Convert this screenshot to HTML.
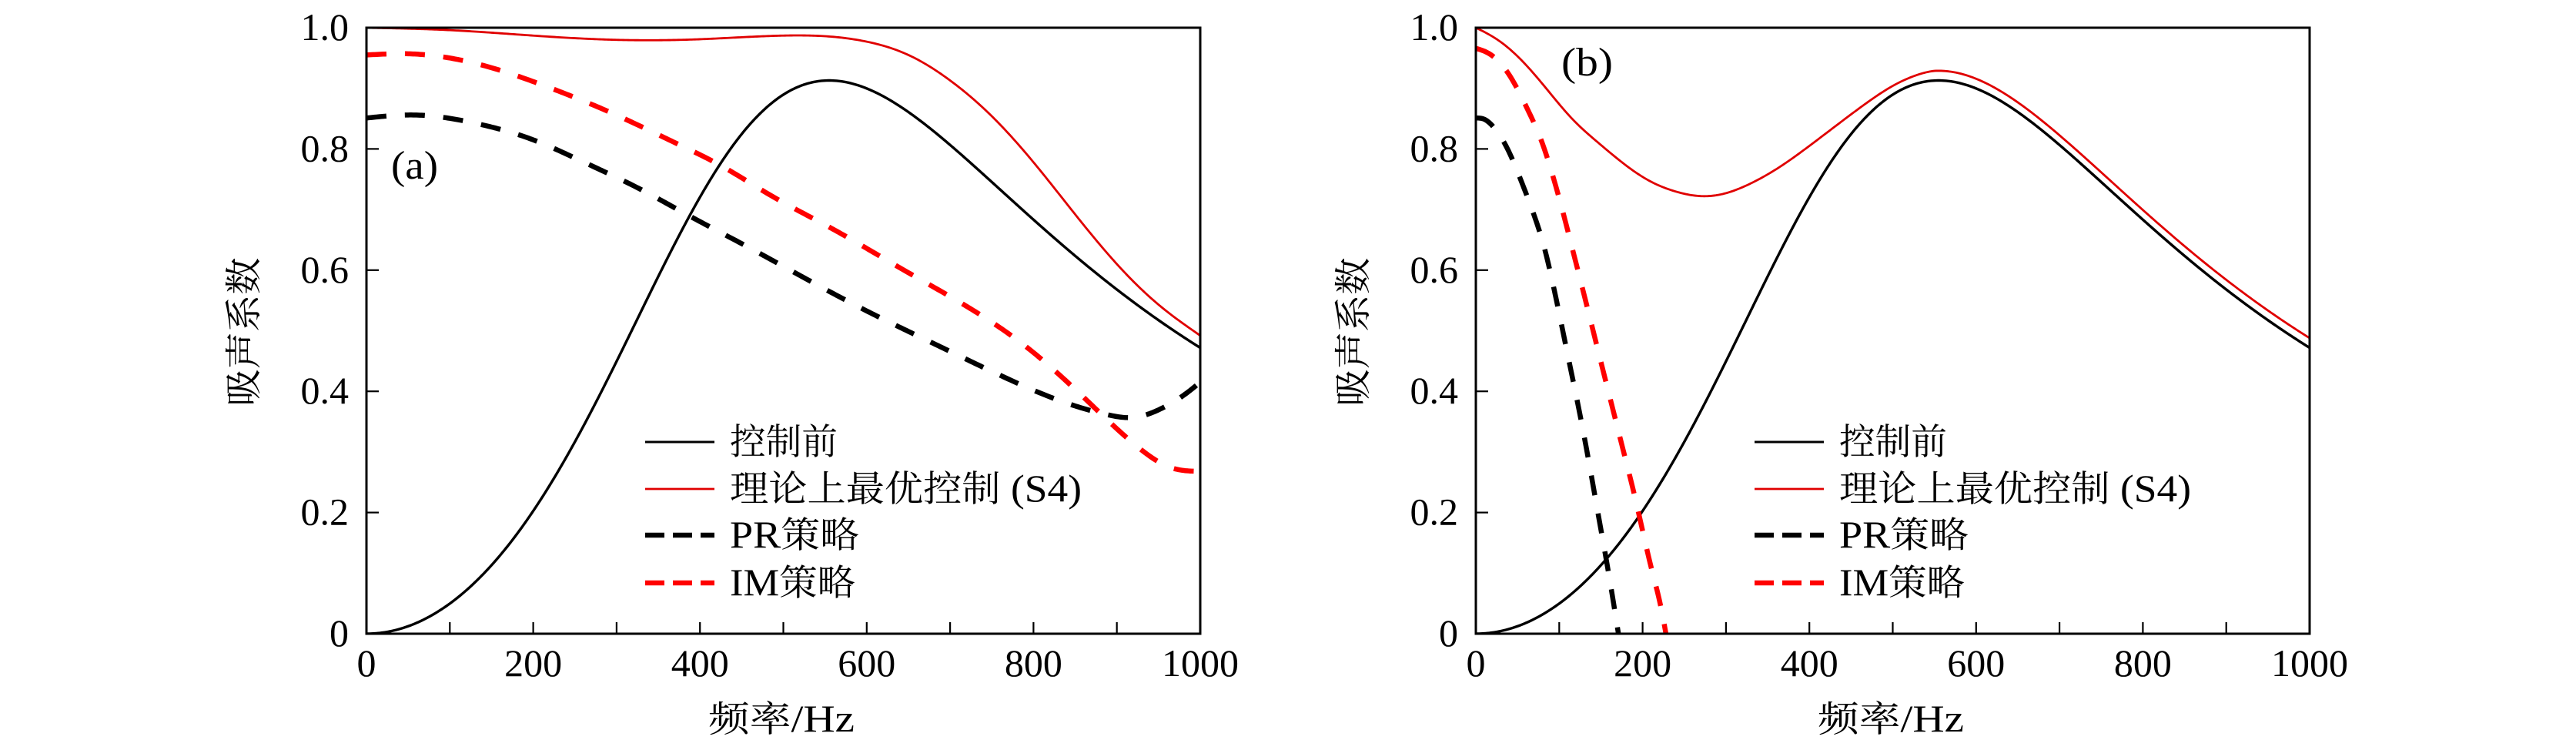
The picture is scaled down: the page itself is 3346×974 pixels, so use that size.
<!DOCTYPE html>
<html><head><meta charset="utf-8">
<style>
html,body{margin:0;padding:0;background:#fff;}
svg{display:block;}
.cjk{font-family:"Noto Serif CJK SC","Liberation Serif","Noto Sans CJK SC",serif;font-size:47px;}
.lat{font-family:"Liberation Serif",serif;font-size:50px;}
.tk{font-family:"Liberation Serif",serif;font-size:50px;fill:#000;}
</style>
</head><body>
<svg id="s" width="3346" height="974" viewBox="0 0 3346 974" xmlns="http://www.w3.org/2000/svg">
<rect width="3346" height="974" fill="#fff"/>
<defs>
<clipPath id="ca"><rect x="476" y="36" width="1083" height="787"/></clipPath>
<clipPath id="cb"><rect x="1917" y="36" width="1083" height="787"/></clipPath>
</defs>
<g id="curvesA" clip-path="url(#ca)" fill="none"></g>
<g id="curvesB" clip-path="url(#cb)" fill="none"></g>

<!-- Axes A -->
<g stroke="#000" fill="none">
<rect x="476" y="36" width="1083" height="787" stroke-width="3"/>
<g stroke-width="2.2">
<line x1="584.3" y1="823" x2="584.3" y2="808"/><line x1="692.6" y1="823" x2="692.6" y2="808"/>
<line x1="800.9" y1="823" x2="800.9" y2="808"/><line x1="909.2" y1="823" x2="909.2" y2="808"/>
<line x1="1017.5" y1="823" x2="1017.5" y2="808"/><line x1="1125.8" y1="823" x2="1125.8" y2="808"/>
<line x1="1234.1" y1="823" x2="1234.1" y2="808"/><line x1="1342.4" y1="823" x2="1342.4" y2="808"/>
<line x1="1450.7" y1="823" x2="1450.7" y2="808"/>
<line x1="476" y1="665.6" x2="492" y2="665.6"/><line x1="476" y1="508.2" x2="492" y2="508.2"/>
<line x1="476" y1="350.8" x2="492" y2="350.8"/><line x1="476" y1="193.4" x2="492" y2="193.4"/>
</g>
</g>
<!-- Axes B -->
<g stroke="#000" fill="none">
<rect x="1917" y="36" width="1083" height="787" stroke-width="3"/>
<g stroke-width="2.2">
<line x1="2025.3" y1="823" x2="2025.3" y2="808"/><line x1="2133.6" y1="823" x2="2133.6" y2="808"/>
<line x1="2241.9" y1="823" x2="2241.9" y2="808"/><line x1="2350.2" y1="823" x2="2350.2" y2="808"/>
<line x1="2458.5" y1="823" x2="2458.5" y2="808"/><line x1="2566.8" y1="823" x2="2566.8" y2="808"/>
<line x1="2675.1" y1="823" x2="2675.1" y2="808"/><line x1="2783.4" y1="823" x2="2783.4" y2="808"/>
<line x1="2891.7" y1="823" x2="2891.7" y2="808"/>
<line x1="1917" y1="665.6" x2="1933" y2="665.6"/><line x1="1917" y1="508.2" x2="1933" y2="508.2"/>
<line x1="1917" y1="350.8" x2="1933" y2="350.8"/><line x1="1917" y1="193.4" x2="1933" y2="193.4"/>
</g>
</g>

<!-- Tick labels A -->
<g class="tk" text-anchor="end">
<text x="453" y="839">0</text><text x="453" y="681.6">0.2</text><text x="453" y="524.2">0.4</text>
<text x="453" y="366.8">0.6</text><text x="453" y="209.4">0.8</text><text x="453" y="52">1.0</text>
</g>
<g class="tk" text-anchor="middle">
<text x="476" y="878">0</text><text x="692.6" y="878">200</text><text x="909.2" y="878">400</text>
<text x="1125.8" y="878">600</text><text x="1342.4" y="878">800</text><text x="1559" y="878">1000</text>
</g>
<!-- Tick labels B -->
<g class="tk" text-anchor="end">
<text x="1894" y="839">0</text><text x="1894" y="681.6">0.2</text><text x="1894" y="524.2">0.4</text>
<text x="1894" y="366.8">0.6</text><text x="1894" y="209.4">0.8</text><text x="1894" y="52">1.0</text>
</g>
<g class="tk" text-anchor="middle">
<text x="1917" y="878">0</text><text x="2133.6" y="878">200</text><text x="2350.2" y="878">400</text>
<text x="2566.8" y="878">600</text><text x="2783.4" y="878">800</text><text x="3000" y="878">1000</text>
</g>

<!-- Axis labels -->
<text x="1015" y="950" text-anchor="middle" textLength="190" lengthAdjust="spacingAndGlyphs"><tspan class="cjk">频率</tspan><tspan class="lat">/Hz</tspan></text>
<text x="2456" y="950" text-anchor="middle" textLength="190" lengthAdjust="spacingAndGlyphs"><tspan class="cjk">频率</tspan><tspan class="lat">/Hz</tspan></text>
<text transform="translate(333,431) rotate(-90)" text-anchor="middle" class="cjk" style="font-size:48px" textLength="193" lengthAdjust="spacingAndGlyphs">吸声系数</text>
<text transform="translate(1774,431) rotate(-90)" text-anchor="middle" class="cjk" style="font-size:48px" textLength="193" lengthAdjust="spacingAndGlyphs">吸声系数</text>

<!-- Panel labels -->
<text x="508" y="232" class="lat" style="font-size:52px" textLength="61" lengthAdjust="spacingAndGlyphs">(a)</text>
<text x="2028" y="98" class="lat" style="font-size:52px" textLength="67" lengthAdjust="spacingAndGlyphs">(b)</text>

<!-- Legend A -->
<g fill="none">
<line x1="838" y1="574" x2="928" y2="574" stroke="#000" stroke-width="3"/>
<line x1="838" y1="635" x2="928" y2="635" stroke="#e00000" stroke-width="2.8"/>
<line x1="838" y1="695" x2="928" y2="695" stroke="#000" stroke-width="6.5" stroke-dasharray="25 11"/>
<line x1="838" y1="757" x2="928" y2="757" stroke="#ff0000" stroke-width="6.5" stroke-dasharray="25 11"/>
</g>
<text x="948" y="590" class="cjk" textLength="140" lengthAdjust="spacingAndGlyphs">控制前</text>
<text x="948" y="651" textLength="457" lengthAdjust="spacingAndGlyphs"><tspan class="cjk">理论上最优控制</tspan><tspan class="lat"> (S4)</tspan></text>
<text x="948" y="711" textLength="168" lengthAdjust="spacingAndGlyphs"><tspan class="lat">PR</tspan><tspan class="cjk">策略</tspan></text>
<text x="948" y="773" textLength="163" lengthAdjust="spacingAndGlyphs"><tspan class="lat">IM</tspan><tspan class="cjk">策略</tspan></text>

<!-- Legend B -->
<g fill="none">
<line x1="2279" y1="574" x2="2369" y2="574" stroke="#000" stroke-width="3"/>
<line x1="2279" y1="635" x2="2369" y2="635" stroke="#e00000" stroke-width="2.8"/>
<line x1="2279" y1="695" x2="2369" y2="695" stroke="#000" stroke-width="6.5" stroke-dasharray="25 11"/>
<line x1="2279" y1="757" x2="2369" y2="757" stroke="#ff0000" stroke-width="6.5" stroke-dasharray="25 11"/>
</g>
<text x="2389" y="590" class="cjk" textLength="140" lengthAdjust="spacingAndGlyphs">控制前</text>
<text x="2389" y="651" textLength="457" lengthAdjust="spacingAndGlyphs"><tspan class="cjk">理论上最优控制</tspan><tspan class="lat"> (S4)</tspan></text>
<text x="2389" y="711" textLength="168" lengthAdjust="spacingAndGlyphs"><tspan class="lat">PR</tspan><tspan class="cjk">策略</tspan></text>
<text x="2389" y="773" textLength="163" lengthAdjust="spacingAndGlyphs"><tspan class="lat">IM</tspan><tspan class="cjk">策略</tspan></text>
</svg>

<script>
(function(){
var NS="http://www.w3.org/2000/svg";
var SX=1.083, Y0=823, H=787;
function model(f){ if(f<=0) return 0; var f0=555,R=1.837,a=2.2; var X=a*(f/f0-f0/f); return 4*R/((1+R)*(1+R)+X*X); }
// natural cubic spline
function spline(pts){
  var n=pts.length, x=[], y=[], i;
  for(i=0;i<n;i++){x.push(pts[i][0]); y.push(pts[i][1]);}
  var h=[], al=[], l=[], mu=[], z=[], c=[], b=[], d=[];
  for(i=0;i<n-1;i++) h[i]=x[i+1]-x[i];
  for(i=1;i<n-1;i++) al[i]=3/h[i]*(y[i+1]-y[i])-3/h[i-1]*(y[i]-y[i-1]);
  l[0]=1; mu[0]=0; z[0]=0;
  for(i=1;i<n-1;i++){ l[i]=2*(x[i+1]-x[i-1])-h[i-1]*mu[i-1]; mu[i]=h[i]/l[i]; z[i]=(al[i]-h[i-1]*z[i-1])/l[i]; }
  l[n-1]=1; z[n-1]=0; c[n-1]=0;
  for(i=n-2;i>=0;i--){ c[i]=z[i]-mu[i]*c[i+1]; b[i]=(y[i+1]-y[i])/h[i]-h[i]*(c[i+1]+2*c[i])/3; d[i]=(c[i+1]-c[i])/(3*h[i]); }
  return function(t){
    var k=0; while(k<n-2 && t>x[k+1]) k++;
    var dx=t-x[k];
    return y[k]+b[k]*dx+c[k]*dx*dx+d[k]*dx*dx*dx;
  };
}
function pathStr(fn,f0,f1,X0,step){
  step=step||2; var s="", f=f0, done=false;
  while(!done){
    if(f>=f1){f=f1; done=true;}
    var x=X0+f*SX, y=Y0-fn(f)*H;
    s+=(s?"L":"M")+x.toFixed(2)+" "+y.toFixed(2);
    f+=step;
  }
  return s;
}
function add(g,d,color,w,dash){
  var p=document.createElementNS(NS,"path");
  p.setAttribute("d",d); p.setAttribute("stroke",color); p.setAttribute("stroke-width",w);
  p.setAttribute("fill","none"); p.setAttribute("stroke-linejoin","round");
  if(dash) p.setAttribute("stroke-dasharray",dash);
  g.appendChild(p);
}
// Panel (a)
var redA=spline([[0,1.0],[100,0.996],[200,0.987],[300,0.980],[400,0.981],[500,0.987],[550,0.986],[600,0.977],[650,0.955],[700,0.913],[750,0.854],[800,0.778],[850,0.692],[900,0.610],[950,0.543],[1000,0.492]]);
var imA=spline([[0,0.955],[50,0.957],[100,0.950],[150,0.934],[214,0.904],[293,0.860],[372,0.809],[427,0.771],[484,0.724],[557.7,0.669],[638.3,0.605],[718.9,0.541],[792.7,0.472],[863.3,0.386],[927,0.306],[965,0.274],[1000,0.268]]);
var prA=spline([[0,0.851],[56,0.856],[135,0.841],[198,0.816],[261,0.778],[325,0.736],[388,0.689],[451,0.643],[517.5,0.593],[598,0.534],[678.6,0.480],[759.2,0.427],[843.1,0.379],[886.8,0.362],[920.3,0.357],[953.9,0.372],[980.6,0.394],[1000,0.415]]);
var gA=document.getElementById("curvesA");
add(gA,pathStr(model,0,1000,476),"#000",3.4);
add(gA,pathStr(redA,0,1000,476),"#e00000",2.8);
add(gA,pathStr(prA,0,1000,476),"#000",6.5,"26 24");
add(gA,pathStr(imA,0,1000,476),"#ff0000",6.5,"26 24");
// Panel (b)
var redBlow=spline([[0,1.0],[24,0.982],[55,0.946],[85.5,0.898],[116,0.849],[147,0.810],[178,0.775],[208.6,0.747],[239,0.730],[275,0.722],[300,0.727],[325,0.740],[350,0.758],[375,0.780],[400,0.805],[425,0.831],[450,0.857],[475,0.882],[500,0.904],[525,0.920],[550,model(550)+0.016],[600,model(600)+0.016],[650,model(650)+0.016]]);
function redB(f){ return f<550 ? redBlow(f) : model(f)+0.016; }
var prB=spline([[0,0.851],[10,0.849],[20,0.838],[38,0.800],[55,0.745],[70,0.690],[82.5,0.635],[92,0.580],[102,0.515],[111.7,0.450],[122.5,0.378],[130,0.325],[138,0.265],[147,0.195],[154.8,0.135],[162.5,0.073],[171,0.0]]);
var imB=spline([[0,0.966],[15,0.958],[41.5,0.919],[62.5,0.864],[79,0.812],[92,0.757],[104,0.698],[116,0.634],[128.6,0.566],[141,0.498],[153,0.432],[165.5,0.364],[178,0.296],[190,0.230],[200,0.170],[212,0.100],[221,0.050],[228,0.0]]);
var gB=document.getElementById("curvesB");
add(gB,pathStr(model,0,1000,1917),"#000",3.4);
add(gB,pathStr(redB,0,1000,1917),"#e00000",2.8);
add(gB,pathStr(prB,0,171,1917,1),"#000",6.5,"26 24");
add(gB,pathStr(imB,0,228,1917,1),"#ff0000",6.5,"26 24");
})();
</script>
</body></html>
